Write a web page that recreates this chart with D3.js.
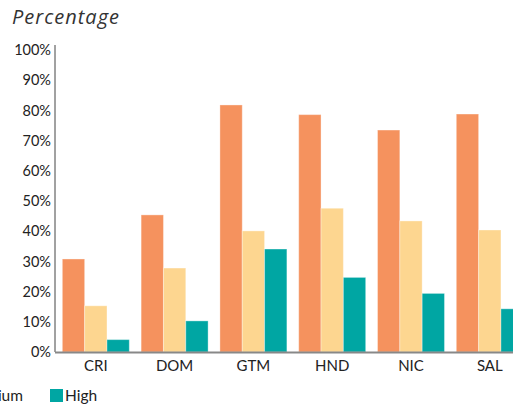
<!DOCTYPE html>
<html>
<head>
<meta charset="utf-8">
<script src="https://cdn.jsdelivr.net/npm/d3@7/dist/d3.min.js"></script>
<style>
  html, body { margin: 0; padding: 0; background: #fff; overflow: hidden; }
  svg { display: block; font-family: Lato, "Open Sans", sans-serif; }
</style>
</head>
<body>
<svg id="chart" width="513" height="406"></svg>
<script>
// Countries along the x axis
const countries = ["CRI", "DOM", "GTM", "HND", "NIC", "SAL"];
// Series (one bar per country in each)
const seriesNames = ["Low", "Medium", "High"];
const lowValues = [30.8, 45.4, 81.8, 78.6, 73.5, 78.8];
const mediumValues = [15.3, 27.8, 40.1, 47.6, 43.4, 40.4];
const highValues = [4.1, 10.3, 34.1, 24.7, 19.4, 14.3];
const seriesColors = ["#F5925E", "#FDD690", "#00A6A3"];
// Y axis ticks
const yTicks = [0, 10, 20, 30, 40, 50, 60, 70, 80, 90, 100];

const seriesValues = [lowValues, mediumValues, highValues];
const rows = countries.map((c, i) => ({
  country: c,
  values: seriesNames.map((s, k) => ({ series: s, value: seriesValues[k][i], color: seriesColors[k] }))
}));

const svg = d3.select("#chart");
const axisX = 55, baseY = 352;

const x = d3.scaleBand()
  .domain(countries)
  .range([axisX, 530.6])
  .paddingInner(0.15)
  .paddingOuter(0.093);

const xs = d3.scaleBand()
  .domain(seriesNames)
  .range([0, x.bandwidth()])
  .padding(0);

const y = d3.scaleLinear().domain([0, 100]).range([baseY, 50]);

// Title
svg.append("text")
  .attr("x", 12)
  .attr("y", 24)
  .attr("font-family", "'Open Sans', Lato, sans-serif")
  .attr("font-size", 20)
  .attr("letter-spacing", 1)
  .attr("font-style", "italic")
  .attr("fill", "#333")
  .text("Percentage");

// Bars
const groups = svg.append("g").selectAll("g")
  .data(rows)
  .join("g")
  .attr("transform", d => `translate(${x(d.country)},0)`);

groups.selectAll("rect")
  .data(d => d.values)
  .join("rect")
  .attr("x", d => xs(d.series))
  .attr("y", d => y(d.value))
  .attr("width", xs.bandwidth())
  .attr("height", d => y(0) - y(d.value))
  .attr("fill", d => d.color)
  .attr("stroke", "#fff")
  .attr("stroke-opacity", 0.35)
  .attr("stroke-width", 1);

// Y axis
const yAxis = svg.append("g")
  .attr("transform", `translate(${axisX},0)`)
  .call(d3.axisLeft(y).tickValues(yTicks).tickSize(0).tickPadding(4).tickFormat(d => d + "%"));
yAxis.select(".domain").remove();
yAxis.selectAll("text")
  .attr("font-family", "Lato, 'Open Sans', sans-serif")
  .attr("font-size", 14.5)
  .attr("fill", "#222");
svg.append("line")
  .attr("x1", axisX).attr("x2", axisX)
  .attr("y1", y(100) - 5).attr("y2", baseY)
  .attr("stroke", "#444")
  .attr("stroke-width", 1);

// X axis
const xAxis = svg.append("g")
  .attr("transform", `translate(0,${baseY})`)
  .call(d3.axisBottom(x).tickSize(0).tickPadding(8));
xAxis.select(".domain").remove();
xAxis.selectAll("text")
  .attr("font-family", "Lato, 'Open Sans', sans-serif")
  .attr("font-size", 15)
  .attr("fill", "#222");
svg.append("line")
  .attr("x1", axisX).attr("x2", 513)
  .attr("y1", baseY + 0.5).attr("y2", baseY + 0.5)
  .attr("stroke", "#888")
  .attr("stroke-width", 2);

// Legend, laid out left to right and anchored by its last entry
const legend = svg.append("g");
let cursor = 0;
const items = seriesNames.map((name, k) => {
  const g = legend.append("g").attr("transform", `translate(${cursor},0)`);
  g.append("rect")
    .attr("x", 0).attr("y", 0)
    .attr("width", 13).attr("height", 13)
    .attr("fill", seriesColors[k]);
  const t = g.append("text")
    .attr("x", 15).attr("y", 12)
    .attr("font-size", 15.5)
    .attr("fill", "#222")
    .text(name);
  const start = cursor;
  cursor += 15 + t.node().getComputedTextLength() + 27;
  return start;
});
legend.attr("transform", `translate(${50 - items[items.length - 1]},389)`);
</script>
</body>
</html>
